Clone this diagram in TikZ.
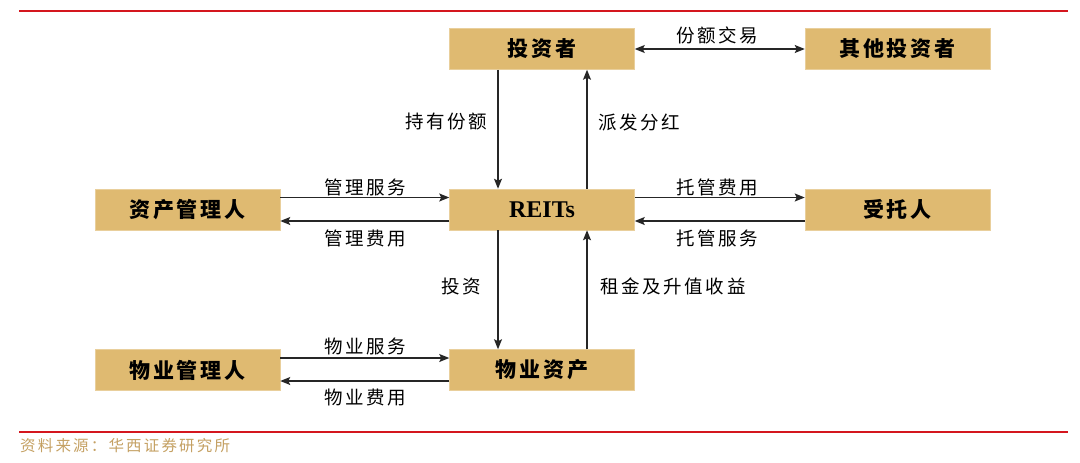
\documentclass[tikz,border=0pt]{standalone}
\usepackage{fontspec}
\newfontfamily\cjk[LetterSpace=14]{Noto Sans CJK SC}
\newfontfamily\reitsfont{Liberation Serif}
\usetikzlibrary{arrows.meta}
\definecolor{boxfill}{RGB}{223,186,113}
\definecolor{redline}{RGB}{212,22,30}
\definecolor{srcgold}{RGB}{196,160,98}
\tikzset{
  box/.style={rectangle, fill=boxfill, draw=boxfill!70!white, line width=0.5pt, minimum width=185pt, minimum height=41pt, inner sep=0pt, font=\cjk\bfseries\fontsize{21}{24}\selectfont, text=black},
  lbl/.style={font=\cjk\fontsize{18.5}{22}\selectfont, inner sep=0pt, text=black},
  tip/.tip={Stealth[length=10pt,width=8pt,inset=2pt]},
  arr/.style={-tip, line width=1.3pt, black!85},
  darr/.style={tip-tip, line width=1.3pt, black!85},
  rule/.style={redline, line width=2.6pt}
}
\begin{document}
\begin{tikzpicture}[x=1pt,y=-1pt]
\useasboundingbox (0,0) rectangle (1080,463);
% red rules
\coordinate (t1) at (19,11); \coordinate (t2) at (1068,11);
\coordinate (b1) at (19,432); \coordinate (b2) at (1068,432);
\draw[rule] (t1) -- (t2);
\draw[rule] (b1) -- (b2);
% boxes
\node[box] (inv) at (542,49) {投资者};
\node[box] (oth) at (897.5,49) {其他投资者};
\node[box] (am) at (187.5,209.5) {资产管理人};
\node[box] (reits) at (542,209.5) {\reitsfont\bfseries\fontsize{24}{26}\selectfont REITs};
\node[box] (tr) at (897.5,209.5) {受托人};
\node[box] (pm) at (187.5,370) {物业管理人};
\node[box] (pa) at (542,370) {物业资产};
% top double arrow
\draw[darr] (inv) -- (oth);
\node[lbl] (l1) at (717,35) {份额交易};
% investor <-> REITs
\draw[arr] ([xshift=-44pt]inv.south) -- ([xshift=-44pt]reits.north);
\draw[arr] ([xshift=45pt]reits.north) -- ([xshift=45pt]inv.south);
\node[lbl] (l2) at (446,122) {持有份额};
\node[lbl] (l3) at (639,122) {派发分红};
% asset manager <-> REITs
\draw[arr] ([yshift=12pt]am.east) -- ([yshift=12pt]reits.west);
\draw[arr] ([yshift=-11.5pt]reits.west) -- ([yshift=-11.5pt]am.east);
\node[lbl] (l4) at (365,187) {管理服务};
\node[lbl] (l5) at (365,238) {管理费用};
% REITs <-> trustee
\draw[arr] ([yshift=12pt]reits.east) -- ([yshift=12pt]tr.west);
\draw[arr] ([yshift=-11.5pt]tr.west) -- ([yshift=-11.5pt]reits.east);
\node[lbl] (l6) at (717,187) {托管费用};
\node[lbl] (l7) at (717,238) {托管服务};
% REITs <-> property assets
\draw[arr] ([xshift=-44pt]reits.south) -- ([xshift=-44pt]pa.north);
\draw[arr] ([xshift=45pt]pa.north) -- ([xshift=45pt]reits.south);
\node[lbl] (l8) at (461,286) {投资};
\node[lbl] (l9) at (673,286) {租金及升值收益};
% property manager <-> property assets
\draw[arr] ([yshift=12pt]pm.east) -- ([yshift=12pt]pa.west);
\draw[arr] ([yshift=-11pt]pa.west) -- ([yshift=-11pt]pm.east);
\node[lbl] (l10) at (365,346) {物业服务};
\node[lbl] (l11) at (365,398) {物业费用};
% source
\node[font=\cjk\fontsize{15.5}{18}\selectfont, text=srcgold, anchor=west, inner sep=0pt] (src) at (20,446) {资料来源：华西证券研究所};
\end{tikzpicture}
\end{document}
